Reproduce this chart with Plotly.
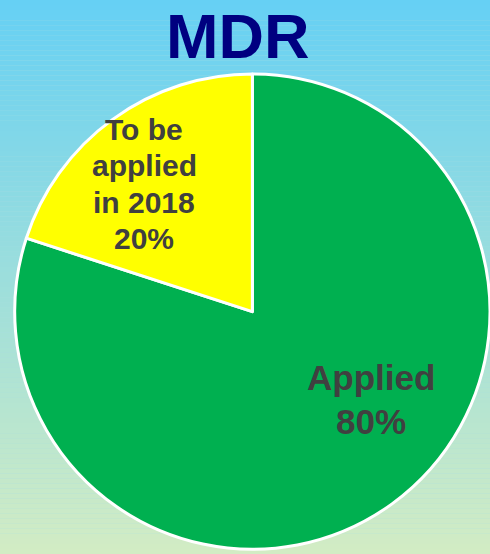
import plotly.graph_objects as go

labels = ["Applied", "To be applied in 2018"]
label_lines = [["Applied"], ["To be", "applied", "in 2018"]]
values = [80, 20]
colors = ["#00B050", "#FFFF00"]
title = "MDR"

W, H = 490, 554

fig = go.Figure()
fig.add_trace(go.Pie(
    labels=labels, values=values, sort=False, direction="clockwise", rotation=0,
    marker=dict(colors=colors, line=dict(color="white", width=3)),
    textinfo="none", hoverinfo="label+percent", showlegend=False,
    domain=dict(x=[0.03, 1.0], y=[0.0, 0.875]),
))

# gradient background via stripes
top = (0x66, 0xD0, 0xF4)
bot = (0xD2, 0xEC, 0xC4)
n = 110
shapes = []
for i in range(n):
    t = i / (n - 1)
    c = tuple(round(top[k] + (bot[k] - top[k]) * t) for k in range(3))
    shapes.append(dict(type="rect", xref="paper", yref="paper",
                       x0=0, x1=1, y0=1 - (i + 1) / n, y1=1 - i / n,
                       fillcolor="rgb(%d,%d,%d)" % c, line=dict(width=0), layer="below"))

total = sum(values)
# per-slice label placement: (center x, first line y, line spacing, font size)
place = [(371, 376, 45, 35), (144, 128, 36.5, 30)]
annotations = []
for lines, v, (px, py, dy, fs) in zip(label_lines, values, place):
    all_lines = lines + ["%d%%" % round(100 * v / total)]
    for j, ln in enumerate(all_lines):
        annotations.append(dict(
            x=px / W, y=1 - (py + j * dy + 1) / H, xref="paper", yref="paper", showarrow=False,
            text="<b>%s</b>" % ln,
            font=dict(family="Liberation Sans, Arial", size=fs, color="#404040"),
            xanchor="center", yanchor="middle"))
annotations.append(dict(
    x=237 / W, y=1, xref="paper", yref="paper", showarrow=False,
    text="<b>%s</b>" % title,
    font=dict(family="Liberation Sans, Arial", size=63, color="#000080"),
    xanchor="center", yanchor="top", borderpad=0))

fig.update_layout(
    width=W, height=H, margin=dict(l=0, r=0, t=0, b=0),
    paper_bgcolor="#A8DDE0", plot_bgcolor="rgba(0,0,0,0)",
    shapes=shapes, annotations=annotations,
)
fig.write_html("out.html")
